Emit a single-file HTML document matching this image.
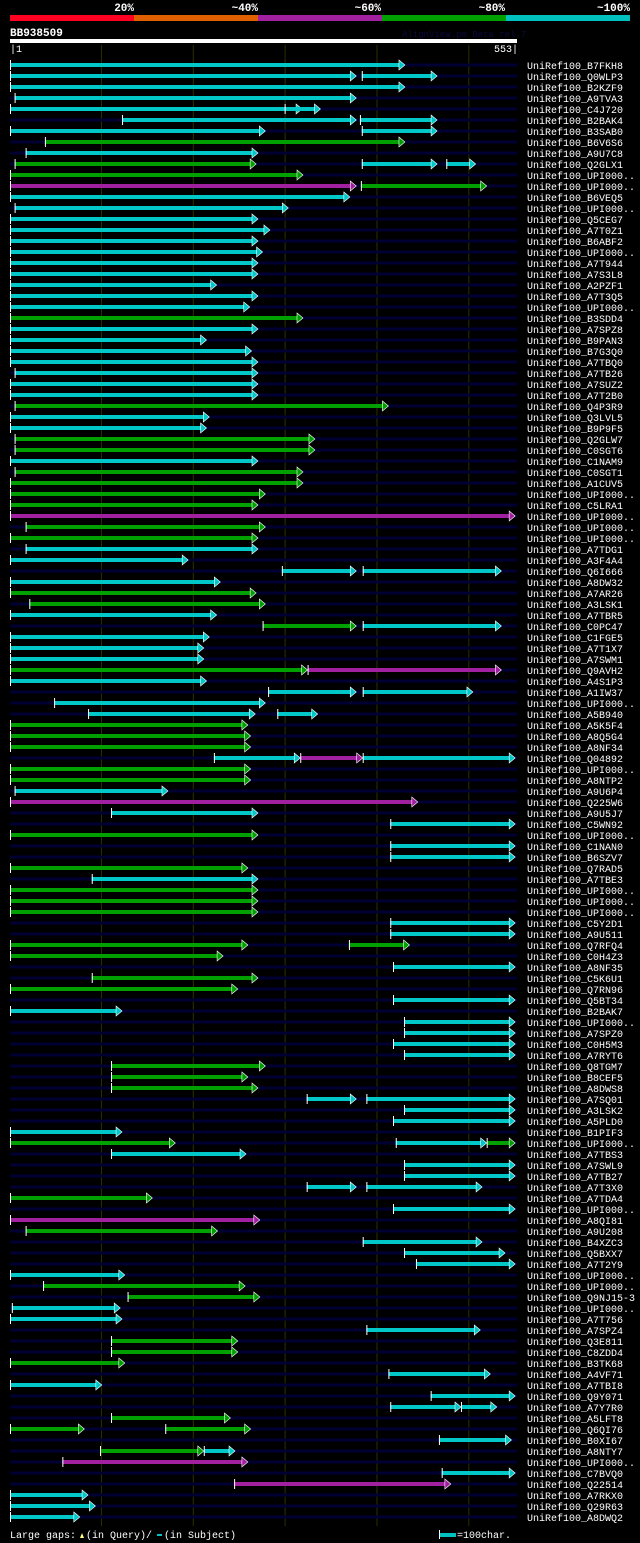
<!DOCTYPE html>
<html><head><meta charset="utf-8">
<style>
html,body{margin:0;padding:0;background:#000;}
body{width:640px;height:1543px;overflow:hidden;font-family:"Liberation Mono",monospace;}
svg{display:block}
</style></head>
<body>
<svg id="chart" width="640" height="1543" xmlns="http://www.w3.org/2000/svg" font-family="Liberation Mono, monospace">
  <g>
    <rect x="10" y="15" width="124" height="6" fill="#ff0022"/>
    <rect x="134" y="15" width="124" height="6" fill="#e06000"/>
    <rect x="258" y="15" width="124" height="6" fill="#a020a0"/>
    <rect x="382" y="15" width="124" height="6" fill="#00a000"/>
    <rect x="506" y="15" width="124" height="6" fill="#00c0c0"/>
    <g fill="#fff" font-size="11" font-weight="bold" text-anchor="end">
      <text x="134" y="11">20%</text>
      <text x="258" y="11">~40%</text>
      <text x="381" y="11">~60%</text>
      <text x="505" y="11">~80%</text>
      <text x="630" y="11">~100%</text>
    </g>
  </g>
  <text x="10" y="36" fill="#fff" font-size="11" font-weight="bold">BB938509</text>
  <text x="402" y="37" fill="#0a0a40" font-size="9">AlignView.pm Beta rel.7</text>
  <rect x="10" y="39" width="507" height="4" fill="#fff"/>
  <text x="10" y="52" fill="#fff" font-size="10">|1</text>
  <text x="518" y="52" fill="#fff" font-size="10" text-anchor="end">553|</text>
  <g id="grid"></g>
  <g id="rows"></g>
  <g>
    <text x="10" y="1538" fill="#fff" font-size="10">Large gaps:</text>
    <polygon points="80,1538 82,1533 84,1538" fill="#ffff80"/>
    <text x="86" y="1538" fill="#fff" font-size="10">(in Query)/</text>
    <rect x="157" y="1534" width="5" height="2" fill="#00c0c0"/>
    <text x="164" y="1538" fill="#fff" font-size="10">(in Subject)</text>
    <rect x="439" y="1530" width="1" height="9" fill="#fff"/>
    <rect x="440" y="1533" width="16" height="4" fill="#00c0c0"/>
    <text x="457" y="1538" fill="#fff" font-size="10">=100char.</text>
  </g>
</svg>
<script>
const queryLength = 553;
const gridTicks = [100, 200, 300, 400, 500];
const names = ["B7FKH8","Q0WLP3","B2KZF9","A9TVA3","C4J720","B2BAK4","B3SAB0","B6V6S6","A9U7C8","Q2GLX1","UPI000..","UPI000..","B6VEQ5","UPI000..","Q5CEG7","A7T0Z1","B6ABF2","UPI000..","A7T944","A7S3L8","A2PZF1","A7T3Q5","UPI000..","B3SDD4","A7SPZ8","B9PAN3","B7G3Q0","A7TBQ0","A7TB26","A7SUZ2","A7T2B0","Q4P3R9","Q3LVL5","B9P9F5","Q2GLW7","C0SGT6","C1NAM9","C0SGT1","A1CUV5","UPI000..","C5LRA1","UPI000..","UPI000..","UPI000..","A7TDG1","A3F4A4","Q6I666","A8DW32","A7AR26","A3LSK1","A7TBR5","C0PC47","C1FGE5","A7T1X7","A7SWM1","Q9AVH2","A4S1P3","A1IW37","UPI000..","A5B940","A5K5F4","A8Q5G4","A8NF34","Q04892","UPI000..","A8NTP2","A9U6P4","Q225W6","A9U5J7","C5WN92","UPI000..","C1NAN0","B6SZV7","Q7RAD5","A7TBE3","UPI000..","UPI000..","UPI000..","C5Y2D1","A9U511","Q7RFQ4","C0H4Z3","A8NF35","C5K6U1","Q7RN96","Q5BT34","B2BAK7","UPI000..","A7SPZ0","C0H5M3","A7RYT6","Q8TGM7","B8CEF5","A8DWS8","A7SQ01","A3LSK2","A5PLD0","B1PIF3","UPI000..","A7TBS3","A7SWL9","A7TB27","A7T3X0","A7TDA4","UPI000..","A8QI81","A9U208","B4XZC3","Q5BXX7","A7T2Y9","UPI000..","UPI000..","Q9NJ15-3","UPI000..","A7T756","A7SPZ4","Q3E811","C8ZDD4","B3TK68","A4VF71","A7TBI8","Q9Y071","A7Y7R0","A5LFT8","Q6QI76","B0XI67","A8NTY7","UPI000..","C7BVQ0","Q22514","A7RKX0","Q29R63","A8DWQ2"];
const hits = [
[[1,431,"c"]],
[[1,378,"c"],[384,466,"c"]],
[[1,431,"c"]],
[[6,378,"c"]],
[[1,319,"c"],[300,339,"c"]],
[[123,378,"c"],[382,466,"c"]],
[[1,279,"c"],[384,466,"c"]],
[[39,431,"g"]],
[[18,271,"c"]],
[[6,269,"g"],[384,466,"c"],[476,508,"c"]],
[[1,320,"g"]],
[[1,378,"m"],[383,520,"g"]],
[[1,371,"c"]],
[[6,304,"c"]],
[[1,271,"c"]],
[[1,284,"c"]],
[[1,271,"c"]],
[[1,276,"c"]],
[[1,271,"c"]],
[[1,271,"c"]],
[[1,226,"c"]],
[[1,271,"c"]],
[[1,262,"c"]],
[[1,320,"g"]],
[[1,271,"c"]],
[[1,215,"c"]],
[[1,264,"c"]],
[[1,271,"c"]],
[[6,271,"c"]],
[[1,271,"c"]],
[[1,271,"c"]],
[[6,413,"g"]],
[[1,218,"c"]],
[[1,215,"c"]],
[[6,333,"g"]],
[[6,333,"g"]],
[[1,271,"c"]],
[[6,320,"g"]],
[[1,320,"g"]],
[[1,279,"g"]],
[[1,271,"g"]],
[[1,551,"m"]],
[[18,279,"g"]],
[[1,271,"g"]],
[[18,271,"c"]],
[[1,195,"c"]],
[[297,378,"c"],[385,536,"c"]],
[[1,230,"c"]],
[[1,269,"g"]],
[[22,279,"g"]],
[[1,226,"c"]],
[[276,378,"g"],[385,536,"c"]],
[[1,218,"c"]],
[[1,212,"c"]],
[[1,212,"c"]],
[[1,325,"g"],[325,536,"m"]],
[[1,215,"c"]],
[[282,378,"c"],[385,505,"c"]],
[[49,279,"c"]],
[[86,268,"c"],[292,336,"c"]],
[[1,260,"g"]],
[[1,263,"g"]],
[[1,263,"g"]],
[[223,317,"c"],[317,385,"m"],[385,551,"c"]],
[[1,263,"g"]],
[[1,263,"g"]],
[[6,173,"c"]],
[[1,445,"m"]],
[[111,271,"c"]],
[[415,551,"c"]],
[[1,271,"g"]],
[[415,551,"c"]],
[[415,551,"c"]],
[[1,260,"g"]],
[[90,271,"c"]],
[[1,271,"g"]],
[[1,271,"g"]],
[[1,271,"g"]],
[[415,551,"c"]],
[[415,551,"c"]],
[[1,260,"g"],[370,436,"g"]],
[[1,233,"g"]],
[[418,551,"c"]],
[[90,271,"g"]],
[[1,249,"g"]],
[[418,551,"c"]],
[[1,123,"c"]],
[[430,551,"c"]],
[[430,551,"c"]],
[[418,551,"c"]],
[[430,551,"c"]],
[[111,279,"g"]],
[[111,260,"g"]],
[[111,271,"g"]],
[[324,378,"c"],[389,551,"c"]],
[[430,551,"c"]],
[[418,551,"c"]],
[[1,123,"c"]],
[[1,181,"g"],[421,520,"c"],[520,551,"g"]],
[[111,258,"c"]],
[[430,551,"c"]],
[[430,551,"c"]],
[[324,378,"c"],[389,515,"c"]],
[[1,156,"g"]],
[[418,551,"c"]],
[[1,273,"m"]],
[[18,227,"g"]],
[[385,515,"c"]],
[[430,540,"c"]],
[[443,551,"c"]],
[[1,126,"c"]],
[[37,257,"g"]],
[[129,273,"g"]],
[[3,121,"c"]],
[[1,123,"c"]],
[[389,513,"c"]],
[[111,249,"g"]],
[[111,249,"g"]],
[[1,126,"g"]],
[[413,524,"c"]],
[[1,101,"c"]],
[[459,551,"c"]],
[[415,492,"c"],[492,531,"c"]],
[[111,241,"g"]],
[[1,82,"g"],[170,263,"g"]],
[[468,547,"c"]],
[[99,212,"g"],[212,246,"c"]],
[[58,260,"m"]],
[[471,551,"c"]],
[[245,481,"m"]],
[[1,86,"c"]],
[[1,94,"c"]],
[[1,77,"c"]]
];
const colorMap = {c:"#00c8c8", g:"#00a000", m:"#a020a0"};
const NS = "http://www.w3.org/2000/svg";
const X0 = 10, X1 = 517, ROW0 = 65, ROWH = 11;
function xScale(r){ return X0 + (r - 1) * (X1 - X0) / (queryLength - 1); }
function yRow(i){ return ROW0 + i * ROWH; }
function mk(tag, attrs){ const e = document.createElementNS(NS, tag); for (const k in attrs) e.setAttribute(k, attrs[k]); return e; }

const grid = document.getElementById('grid');
gridTicks.forEach(t => {
  const l = mk('line', {x1: xScale(t) + 0.5, x2: xScale(t) + 0.5, y1: 45, y2: 1526, stroke: '#2e2e00', 'stroke-width': 1});
  
  
  grid.appendChild(l);
});

const rows = document.getElementById('rows');
names.forEach((nm, i) => {
  const y = yRow(i);
  const g = mk('g', {});
  
  
  const bg = mk('rect', {x: X0, y: y - 1.5, width: X1 - X0, height: 3, fill: '#000033'});
  
  
  g.appendChild(bg);
  (hits[i] || []).forEach(s => {
    const xa = xScale(s[0]), xb = xScale(s[1]);
    const col = colorMap[s[2]];
    const bar = mk('rect', {x: xa, y: y - 2, width: Math.max(0, xb - xa - 5), height: 4, fill: col});
    
    
    g.appendChild(bar);
    const tri = mk('polygon', {points: (xb - 6) + ',' + (y - 5) + ' ' + xb + ',' + y + ' ' + (xb - 6) + ',' + (y + 5), fill: col, stroke: '#fff', 'stroke-width': 0.6});
    
    
    g.appendChild(tri);
    const tk = mk('rect', {x: xa, y: y - 5, width: 1, height: 10, fill: '#fff'});
    
    
    g.appendChild(tk);
  });
  const t = mk('text', {x: 527, y: y + 4, fill: '#fff', 'font-size': 10});
  t.textContent = 'UniRef100_' + nm;
  
  
  g.appendChild(t);
  rows.appendChild(g);
});
</script>
</body></html>
